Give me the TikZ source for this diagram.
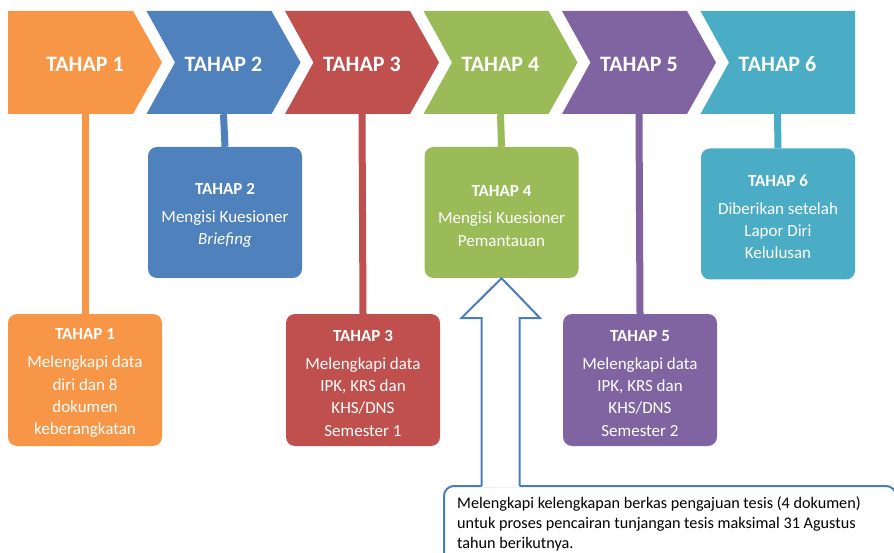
\documentclass[tikz,border=0pt]{standalone}
\usepackage{fontspec}
\setmainfont{Carlito}
\definecolor{cOrange}{HTML}{F79646}
\definecolor{cBlue}{HTML}{4F81BD}
\definecolor{cRed}{HTML}{C0504D}
\definecolor{cGreen}{HTML}{9BBB59}
\definecolor{cPurple}{HTML}{8064A2}
\definecolor{cTeal}{HTML}{4BACC6}
\definecolor{cLine}{HTML}{4A7EBB}
\tikzset{
  chevtext/.style={text=white, font=\fontsize{22}{26}\selectfont\bfseries,
    minimum width=60pt, minimum height=99pt, inner sep=0pt},
  stepbox/.style={rounded corners=9pt, minimum width=154pt, text=white,
    align=center, inner sep=0pt, font=\fontsize{17}{22.3}\selectfont},
  stem/.style={line width=7pt},
  notebox/.style={draw=cLine, line width=2pt, rounded corners=10pt, fill=white}
}
% bold heading line of a box; the strut lowers the whole text block a little
\newcommand{\boxtitle}[1]{\rule{0pt}{17.5pt}{\bfseries #1}\\[5.5pt]}
\begin{document}
\begin{tikzpicture}[x=1pt, y=-1pt]
\useasboundingbox (0,0) rectangle (894,553);
\clip (0,0) rectangle (894,553);

% chevron band
\fill[cOrange] (8,11) -- (133,11) -- (162,62.5) -- (133,114) -- (8,114) -- cycle;
\foreach \i/\col in {1/cBlue, 2/cRed, 3/cGreen, 4/cPurple} {
  \pgfmathsetmacro{\L}{8+138.5*\i}
  \fill[\col] (\L,11) -- (\L+125,11) -- (\L+154,62.5) -- (\L+125,114)
    -- (\L,114) -- (\L+28.5,62.5) -- cycle;
}
\fill[cTeal] (700.5,11) -- (855,11) -- (855,114) -- (700.5,114) -- (729,62.5) -- cycle;

\node[chevtext] (c1) at (85,64.5) {TAHAP 1};
\node[chevtext] (c2) at (223.5,64.5) {TAHAP 2};
\node[chevtext] (c3) at (362,64.5) {TAHAP 3};
\node[chevtext] (c4) at (500.5,64.5) {TAHAP 4};
\node[chevtext] (c5) at (639,64.5) {TAHAP 5};
\node[chevtext] (c6) at (777.5,64.5) {TAHAP 6};

% detail boxes
\node[stepbox, fill=cOrange, minimum height=132pt] (b1) at (85,380)
  {\boxtitle{TAHAP 1}Melengkapi data\\diri dan 8\\dokumen\\keberangkatan};
\node[stepbox, fill=cBlue, minimum height=131pt] (b2) at (225,212.5)
  {\boxtitle{TAHAP 2}Mengisi Kuesioner\\\itshape Briefing};
\node[stepbox, fill=cRed, minimum height=132pt] (b3) at (363,380)
  {\boxtitle{TAHAP 3}Melengkapi data\\IPK, KRS dan\\KHS/DNS\\Semester 1};
\node[stepbox, fill=cGreen, minimum height=131pt] (b4) at (501.5,212.5)
  {\boxtitle{TAHAP 4}Mengisi Kuesioner\\Pemantauan};
\node[stepbox, fill=cPurple, minimum height=132pt] (b5) at (640,380)
  {\boxtitle{TAHAP 5}Melengkapi data\\IPK, KRS dan\\KHS/DNS\\Semester 2};
\node[stepbox, fill=cTeal, minimum height=131pt] (b6) at (778,214)
  {\boxtitle{TAHAP 6}Diberikan setelah\\Lapor Diri\\Kelulusan};

% stems from the band down to each box
\draw[stem, cOrange] (c1.south) -- (b1.north);
\draw[stem, cBlue] (c2.south) -- (b2.north);
\draw[stem, cRed] (c3.south) -- (b3.north);
\draw[stem, cGreen] (c4.south) -- (b4.north);
\draw[stem, cPurple] (c5.south) -- (b5.north);
\draw[stem, cTeal] (c6.south) -- (b6.north);

% note with hollow arrow pointing up to stage 4
\node[notebox, anchor=north west, minimum width=452pt, minimum height=100pt] (note) at (443,485) {};
\coordinate (tip) at (b4.south);
\fill[white] (481.5,487) -- (481.5,318) -- (461.5,318) -- (tip) -- (540,318)
  -- (519.5,318) -- (519.5,487) -- cycle;
\draw[cLine, line width=2pt, line join=miter] (481.5,486) -- (481.5,318) -- (461.5,318)
  -- (tip) -- (540,318) -- (519.5,318) -- (519.5,486);
\node[anchor=north west, align=left, inner sep=0pt,
  font=\fontsize{16.2}{20}\selectfont] (notetext) at (457,496)
  {Melengkapi kelengkapan berkas pengajuan tesis (4 dokumen)\\
   untuk proses pencairan tunjangan tesis maksimal 31 Agustus\\
   tahun berikutnya.};
\end{tikzpicture}
\end{document}
